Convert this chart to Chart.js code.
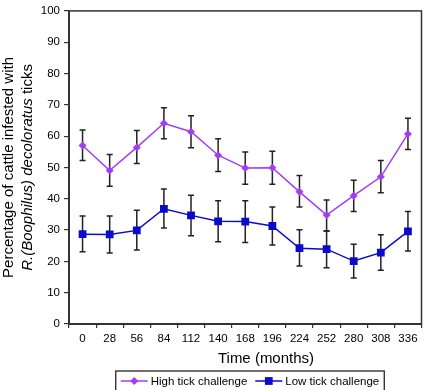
<!DOCTYPE html>
<html>
<head>
<meta charset="utf-8">
<script src="https://cdn.jsdelivr.net/npm/chart.js@4"></script>
<style>
  body { margin: 0; background: #fff; }
  #wrap { width: 427px; height: 390px; }
</style>
</head>
<body>
<div id="wrap"><canvas id="chart" width="427" height="390"></canvas></div>
<script>
// time points (months)
const months = ['0', '28', '56', '84', '112', '140', '168', '196', '224', '252', '280', '308', '336'];

// high tick challenge: mean, upper and lower error bar ends (%)
const highMean  = [57.0, 49.0, 56.4, 64.1, 61.4, 53.9, 49.8, 49.9, 42.2, 34.8, 41.0, 47.0, 60.7];
const highUpper = [62.0, 54.1, 61.8, 69.1, 66.5, 59.2, 54.9, 55.2, 47.4, 39.6, 45.9, 52.2, 65.7];
const highLower = [52.2, 44.0, 51.3, 59.2, 56.3, 48.7, 44.6, 44.6, 37.4, 29.7, 35.9, 41.9, 55.7];

// low tick challenge
const lowMean  = [28.7, 28.6, 29.9, 36.8, 34.7, 32.8, 32.7, 31.3, 24.2, 23.9, 20.1, 22.8, 29.6];
const lowUpper = [34.5, 34.5, 36.3, 43.1, 41.1, 39.4, 39.4, 37.4, 30.1, 29.7, 25.5, 28.5, 35.9];
const lowLower = [23.1, 22.7, 23.6, 30.7, 28.2, 26.3, 26.0, 25.2, 18.5, 18.0, 14.7, 17.2, 23.3];

const yTicks = [0, 10, 20, 30, 40, 50, 60, 70, 80, 90, 100];

const FONT = '"Liberation Sans", Arial, sans-serif';
const HIGH_COLOR = '#a43cf4';
const LOW_COLOR = '#0a0acc';

// error bars, plot frame, axis titles and boxed legend
const extras = {
  id: 'extras',
  beforeDatasetsDraw(chart) {
    const ctx = chart.ctx;
    const x = chart.scales.x, y = chart.scales.y;
    ctx.save();
    ctx.strokeStyle = '#222';
    ctx.lineWidth = 1.5;
    chart.data.datasets.forEach(ds => {
      ds.upper.forEach((u, i) => {
        const px = x.getPixelForValue(i);
        const top = y.getPixelForValue(u);
        const bot = y.getPixelForValue(ds.lower[i]);
        ctx.beginPath();
        ctx.moveTo(px, top); ctx.lineTo(px, bot);
        ctx.moveTo(px - 3, top); ctx.lineTo(px + 3, top);
        ctx.moveTo(px - 3, bot); ctx.lineTo(px + 3, bot);
        ctx.stroke();
      });
    });
    ctx.restore();
  },
  afterDraw(chart) {
    const ctx = chart.ctx;
    const a = chart.chartArea;
    ctx.save();
    ctx.strokeStyle = '#333';
    ctx.lineWidth = 1.5;
    ctx.strokeRect(a.left, a.top, a.right - a.left, a.bottom - a.top);
    // heavier left and bottom axis lines
    ctx.lineWidth = 2;
    ctx.beginPath();
    ctx.moveTo(a.left, a.top); ctx.lineTo(a.left, a.bottom); ctx.lineTo(a.right, a.bottom);
    ctx.stroke();

    // y title, two rotated lines, second one partly italic
    ctx.fillStyle = '#000';
    ctx.textBaseline = 'middle';
    const cy = (a.top + a.bottom) / 2;
    ctx.translate(9, cy);
    ctx.rotate(-Math.PI / 2);
    ctx.font = '15px ' + FONT;
    ctx.textAlign = 'center';
    ctx.fillText('Percentage of cattle infested with', 0, 0);
    const it = 'R.(Boophilus) decoloratus', rest = ' ticks';
    ctx.font = 'italic 15px ' + FONT;
    const w1 = ctx.measureText(it).width;
    ctx.font = '15px ' + FONT;
    const w2 = ctx.measureText(rest).width;
    ctx.textAlign = 'left';
    ctx.font = 'italic 15px ' + FONT;
    ctx.fillText(it, -(w1 + w2) / 2, 19);
    ctx.font = '15px ' + FONT;
    ctx.fillText(rest, -(w1 + w2) / 2 + w1, 19);
    ctx.setTransform(1, 0, 0, 1, 0, 0);

    // x title
    ctx.font = '15px ' + FONT;
    ctx.textAlign = 'center';
    ctx.fillText('Time (months)', 266, 359);

    // legend
    ctx.font = '11.5px ' + FONT;
    ctx.textAlign = 'left';
    const items = chart.data.datasets;
    const lineLen = 27, gap = 3, itemGap = 8, pad = 5;
    const widths = items.map(d => lineLen + gap + ctx.measureText(d.label).width);
    const total = widths.reduce((s, w) => s + w, 0) + itemGap * (items.length - 1) + pad * 2;
    const bx = 250 - total / 2, by = 371, bh = 20;
    ctx.strokeStyle = '#111';
    ctx.lineWidth = 1.2;
    ctx.strokeRect(bx, by, total, bh);
    let lx = bx + pad;
    const ly = by + bh / 2;
    items.forEach((d, i) => {
      const mx = lx + lineLen / 2;
      ctx.strokeStyle = d.borderColor;
      ctx.lineWidth = 1.5;
      ctx.beginPath();
      ctx.moveTo(lx, ly); ctx.lineTo(lx + lineLen, ly);
      ctx.stroke();
      ctx.fillStyle = d.borderColor;
      ctx.beginPath();
      const r = d.pointRadius * Math.SQRT1_2;
      if (d.pointStyle === 'rect') {
        ctx.rect(mx - r, ly - r, 2 * r, 2 * r);
      } else {
        ctx.moveTo(mx, ly - d.pointRadius);
        ctx.lineTo(mx + d.pointRadius, ly);
        ctx.lineTo(mx, ly + d.pointRadius);
        ctx.lineTo(mx - d.pointRadius, ly);
        ctx.closePath();
      }
      ctx.fill();
      ctx.fillStyle = '#000';
      ctx.fillText(d.label, lx + lineLen + gap, ly + 0.5);
      lx += widths[i] + itemGap;
    });
    ctx.restore();
  }
};

new Chart(document.getElementById('chart'), {
  type: 'line',
  data: {
    labels: months,
    datasets: [
      {
        label: 'High tick challenge',
        data: highMean,
        upper: highUpper,
        lower: highLower,
        borderColor: HIGH_COLOR,
        backgroundColor: HIGH_COLOR,
        borderWidth: 1.5,
        pointStyle: 'rectRot',
        pointRadius: 4,
        pointBorderWidth: 0,
        tension: 0
      },
      {
        label: 'Low tick challenge',
        data: lowMean,
        upper: lowUpper,
        lower: lowLower,
        borderColor: LOW_COLOR,
        backgroundColor: LOW_COLOR,
        borderWidth: 1.5,
        pointStyle: 'rect',
        pointRadius: 5.5,
        pointBorderWidth: 0,
        tension: 0
      }
    ]
  },
  options: {
    responsive: false,
    animation: false,
    devicePixelRatio: 1,
    layout: { padding: { left: 0, right: 2, top: 2, bottom: 46 } },
    plugins: {
      legend: { display: false },
      tooltip: { enabled: false }
    },
    scales: {
      x: {
        offset: true,
        grid: {
          offset: true,
          drawOnChartArea: false,
          drawTicks: true,
          tickLength: 4,
          color: '#333',
          lineWidth: 1.2
        },
        border: { display: false },
        ticks: {
          color: '#000',
          padding: 4,
          maxRotation: 0,
          autoSkip: false,
          font: { family: FONT, size: 11.5 }
        },
        afterFit(scale) { scale.height = 20; }
      },
      y: {
        min: 0,
        max: 100,
        afterBuildTicks(scale) { scale.ticks = yTicks.map(v => ({ value: v })); },
        grid: {
          drawOnChartArea: false,
          drawTicks: true,
          tickLength: 5,
          color: '#333',
          lineWidth: 1.2
        },
        border: { display: false },
        ticks: {
          color: '#000',
          padding: 4,
          font: { family: FONT, size: 11.5 }
        },
        afterFit(scale) { scale.width = 69; }
      }
    }
  },
  plugins: [extras]
});
</script>
</body>
</html>
